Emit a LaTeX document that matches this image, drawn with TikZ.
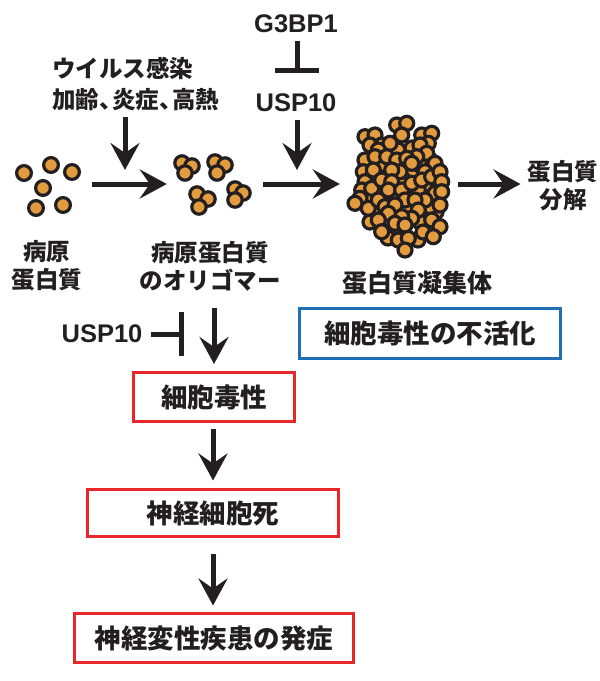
\documentclass[tikz,border=0pt]{standalone}
\usepackage{fontspec}
\newfontfamily\jp{Noto Sans CJK JP}
\newfontfamily\lat{Liberation Sans}
\usetikzlibrary{arrows.meta}

\definecolor{ink}{HTML}{231F20}
\definecolor{bead}{HTML}{E39B3F}
\definecolor{boxred}{HTML}{E8262B}
\definecolor{boxblue}{HTML}{1F6FB4}

\tikzset{
  jtext/.style={font=\jp\bfseries\fontsize{23.5}{28}\selectfont, text=ink, inner sep=0pt, align=center},
  ltext/.style={font=\lat\bfseries\fontsize{25.5}{28}\selectfont, text=ink, inner sep=0pt},
  arr/.style={draw=ink, line width=5pt, -{Stealth[length=27pt,width=29pt,inset=10pt]}},
  inh/.style={draw=ink, line width=5pt, -{Bar[width=44pt]}},
  bead/.style={draw=ink, fill=bead, line width=3.2pt},
  group/.style={inner sep=0pt, minimum width=#1, minimum height=60pt},
  outcome/.style={draw=boxred, line width=3pt, inner sep=0pt, text=ink,
    font=\jp\bfseries\fontsize{26.5}{30}\selectfont},
}

\begin{document}
\begin{tikzpicture}[x=1pt, y=-1pt]
\useasboundingbox (0,0) rectangle (600,681);

% ---- upstream regulators ----
\node[ltext] (g3) at (296,24) {G3BP1};
\node[ltext] (usp) at (296,103) {USP10};
\node[jtext, anchor=west] (virus) at (52,68) {ウイルス感染};
\node[jtext, anchor=west] (age) at (52,100) {加齢、\kern-0.45em炎症、\kern-0.45em高熱};

% ---- protein states ----
\node[group=70pt] (mono) at (48,184) {};
\node[group=90pt] (olig) at (212,184) {};
\node[group=100pt] (agg) at (400,184) {};
\node[jtext] (degr) at (563,186) {蛋白質\\分解};

\node[jtext] (monolab) at (47,266) {病原\\蛋白質};
\node[jtext] (oliglab) at (210,266) {病原蛋白質\\のオリゴマー};
\node[jtext, font=\jp\bfseries\fontsize{25}{28}\selectfont] (agglab) at (417,283) {蛋白質凝集体};

% monomers
\foreach \x/\y in {24/173, 51/165, 72/172, 43/188, 36/208, 63/205}
  \draw[bead] (\x,\y) circle (7.4pt);

% trimers
\foreach \x/\y in {182/163, 192/166, 185/173,
                   215/162, 225/165, 217/173,
                   197/194, 208/199, 199/207,
                   235/189, 243/193, 235/200}
  \draw[bead] (\x,\y) circle (7.2pt);

% aggregate: back layer
\foreach \x/\y in {
  385/165, 413/170, 395/195, 408/208, 420/222, 425/188, 372/197,
  383/192, 392/230, 418/240, 402/180, 430/160, 412/148, 370/222,
  388/238, 436/212, 420/165, 398/150, 378/210, 423/232}
  \draw[bead] (\x,\y) circle (7pt);
% aggregate: front layer
\foreach \x/\y in {
  396.7/125, 406.7/123.3, 401.7/135,
  365/136.7, 375/135, 370/145, 381.7/145, 390/143.3, 378.3/150,
  421.7/135, 431.7/133.3, 428.3/143.3, 420/145, 426.7/153.3, 416.7/156.7,
  435/163.3, 425/171.7,
  365/160, 375/156.7, 363.3/171.7, 373.3/170, 365/181.7,
  361.7/190, 371.7/188.3, 360/198.3, 355/203.3, 368.3/208.3,
  386.7/156.7, 396.7/160, 406.7/158.3, 411.7/163.3,
  400/171.7, 391.7/170, 381.7/180, 391.7/181.7,
  378.3/200, 385/206.7, 418.3/190,
  388.3/190, 401.7/190, 411.7/183.3, 421.7/180, 431.7/176.7,
  440/171.7, 441.7/181.7, 435/193.3, 441.7/191.7,
  430/206.7, 440/205, 425/200, 405/200, 395/205, 415/200,
  418.3/210, 411.7/218.3, 401.7/216.7, 388.3/213.3, 378.3/220,
  381.7/231.7, 395/223.3, 405/225,
  431.7/220, 440/226.7, 433.3/236.7,
  398.3/240, 408.3/238.3, 405/250}
  \draw[bead] (\x,\y) circle (7pt);

% ---- main pathway arrows ----
\draw[arr, shorten <=9pt] (mono.east) -- (olig.west);
\draw[arr, shorten <=6pt, shorten >=10pt] (olig.east) -- (agg.west);
\draw[arr, shorten <=8pt, shorten >=7pt] (agg.east) -- (degr.west |- agg.east);

% modifier arrows
\coordinate (m1) at (125,184);
\coordinate (m2) at (297,184);
\draw[arr, shorten <=6pt, shorten >=14pt] (age.south -| m1) -- (m1);
\draw[arr, shorten <=8pt, shorten >=14pt] (usp.south -| m2) -- (m2);
\draw[inh, shorten <=8pt, shorten >=21pt] (g3.south -| m2) -- (usp.north -| m2);

% ---- outcomes ----
\node[draw=boxblue, line width=3pt, inner sep=0pt, text=ink,
      minimum width=261pt, minimum height=50pt,
      font=\jp\bfseries\fontsize{26.5}{30}\selectfont] (inact) at (430,333.5) {細胞毒性の不活化};
\node[outcome, minimum width=161pt, minimum height=49pt] (tox) at (214,397) {細胞毒性};
\node[outcome, minimum width=251pt, minimum height=47pt] (death) at (213,513) {神経細胞死};
\node[outcome, minimum width=279pt, minimum height=49pt] (onset) at (214,638) {神経変性疾患の発症};

\node[ltext] (usp2) at (102,334) {USP10};

\draw[arr, shorten <=17pt, shorten >=7pt] (tox.north |- oliglab.south) -- (tox.north);
\draw[inh, shorten <=8pt, shorten >=30pt] (usp2.east) -- (usp2.east -| tox.north);
\draw[arr, shorten <=6pt, shorten >=7.5pt] (tox.south -| death.north) -- (death.north);
\draw[arr, shorten <=16pt, shorten >=6.5pt] (death.south) -- (death.south |- onset.north);

\end{tikzpicture}
\end{document}
